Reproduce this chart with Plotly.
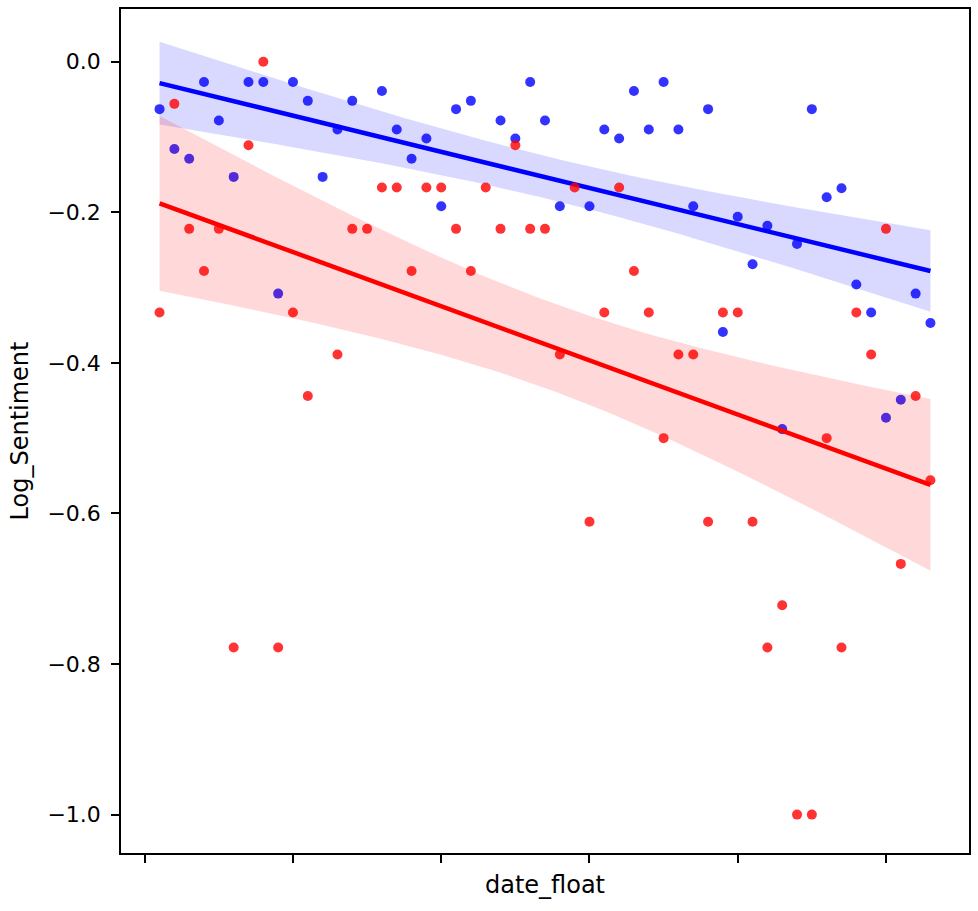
import numpy as np
import plotly.graph_objects as go

# ---- data ----
blue_x = [1, 2, 3, 4, 5, 6, 7, 8, 9, 10, 11, 12, 13, 14, 16, 17, 18, 19, 20, 21, 22, 24, 25, 26, 27, 28,
          30, 31, 32, 33, 34, 35, 36, 37, 38, 39, 40, 41, 42, 43, 44, 45, 46, 47, 48, 49, 50, 51, 52, 53]
blue_y = [-0.063, -0.116, -0.129, -0.027, -0.078, -0.153, -0.027, -0.027, -0.308, -0.027, -0.052, -0.153,
          -0.090, -0.052, -0.039, -0.090, -0.129, -0.102, -0.192, -0.063, -0.052, -0.078, -0.102, -0.027,
          -0.078, -0.192, -0.192, -0.090, -0.102, -0.039, -0.090, -0.027, -0.090, -0.192, -0.063, -0.359,
          -0.206, -0.269, -0.218, -0.488, -0.242, -0.063, -0.180, -0.168, -0.296, -0.333, -0.473, -0.449,
          -0.308, -0.347]

red_x = [1, 2, 3, 4, 5, 6, 7, 8, 9, 10, 11, 13, 14, 15, 16, 17, 18, 19, 20, 21, 22, 23, 24, 25, 26, 27,
         28, 29, 30, 31, 32, 33, 34, 35, 36, 37, 38, 39, 40, 41, 42, 43, 44, 45, 46, 47, 48, 49, 50, 51,
         52, 53]
red_y = [-0.333, -0.056, -0.222, -0.278, -0.222, -0.778, -0.111, 0.0, -0.778, -0.333, -0.444, -0.389,
         -0.222, -0.222, -0.167, -0.167, -0.278, -0.167, -0.167, -0.222, -0.278, -0.167, -0.222, -0.111,
         -0.222, -0.222, -0.389, -0.167, -0.611, -0.333, -0.167, -0.278, -0.333, -0.500, -0.389, -0.389,
         -0.611, -0.333, -0.333, -0.611, -0.778, -0.722, -1.0, -1.0, -0.500, -0.778, -0.333, -0.389,
         -0.222, -0.667, -0.444, -0.556]

x_ticks = [0, 10, 20, 30, 40, 50]
y_ticks = [0.0, -0.2, -0.4, -0.6, -0.8, -1.0]
y_tick_labels = ["0.0", "\u22120.2", "\u22120.4", "\u22120.6", "\u22120.8", "\u22121.0"]

T975 = 2.01  # two-sided 95% t quantile (df ~ 50)


def fit_band(xs, ys):
    x = np.asarray(xs, float)
    y = np.asarray(ys, float)
    n = len(x)
    b, a = np.polyfit(x, y, 1)
    resid = y - (a + b * x)
    s = np.sqrt((resid ** 2).sum() / (n - 2))
    xm = x.mean()
    sxx = ((x - xm) ** 2).sum()
    grid = np.linspace(x.min(), x.max(), 100)
    yhat = a + b * grid
    se = s * np.sqrt(1.0 / n + (grid - xm) ** 2 / sxx)
    return grid, yhat, yhat - T975 * se, yhat + T975 * se


fig = go.Figure()

series = [
    (blue_x, blue_y, "rgb(0,0,255)", "rgba(0,0,255,0.8)", "rgba(0,0,255,0.15)"),
    (red_x, red_y, "rgb(255,0,0)", "rgba(255,0,0,0.8)", "rgba(255,0,0,0.15)"),
]

for xs, ys, lc, mc, bc in series:
    g, yh, lo, hi = fit_band(xs, ys)
    fig.add_trace(go.Scatter(x=xs, y=ys, mode="markers",
                             marker=dict(size=10, color=mc, line=dict(width=0)),
                             showlegend=False, hoverinfo="skip"))
    fig.add_trace(go.Scatter(x=np.concatenate([g, g[::-1]]), y=np.concatenate([hi, lo[::-1]]),
                             fill="toself", fillcolor=bc, line=dict(width=0),
                             mode="lines", showlegend=False, hoverinfo="skip"))
    fig.add_trace(go.Scatter(x=g, y=yh, mode="lines", line=dict(color=lc, width=4.5),
                             showlegend=False, hoverinfo="skip"))

axis_common = dict(showgrid=False, zeroline=False, showline=True, linecolor="black", linewidth=1.5,
                   mirror=True, ticks="outside", ticklen=8, tickwidth=1.5, tickcolor="black")

fig.update_layout(
    width=978, height=911,
    margin=dict(l=121, r=7, t=7, b=58),
    paper_bgcolor="white", plot_bgcolor="white",
    font=dict(family="DejaVu Sans", size=20, color="black"),
    xaxis=dict(range=[-1.6, 55.6], tickvals=x_ticks, ticktext=[""] * len(x_ticks),
               title=dict(text="date_float", standoff=10), **axis_common),
    yaxis=dict(range=[-1.051, 0.070], tickvals=y_ticks, ticktext=y_tick_labels,
               tickfont=dict(size=22), ticklabelstandoff=6,
               title=dict(text="Log_Sentiment", standoff=12), **axis_common),
)

fig.write_html("out.html")
